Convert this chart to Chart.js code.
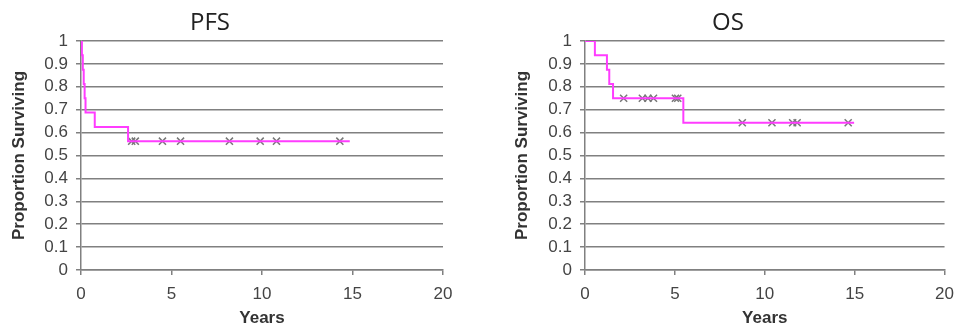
<!DOCTYPE html>
<html>
<head>
<meta charset="utf-8">
<script src="https://cdn.jsdelivr.net/npm/chart.js@4"></script>
<style>
  body { margin: 0; background: #fff; }
  .box { position: absolute; top: 0; height: 333px; }
</style>
</head>
<body>
<div class="box" style="left:0;width:480px"><canvas id="pfsChart" width="480" height="333"></canvas></div>
<div class="box" style="left:480px;width:483px"><canvas id="osChart" width="483" height="333"></canvas></div>
<script>
// PFS step curve (years, proportion surviving)
const pfsTimes = [0, 0.05, 0.1, 0.15, 0.2, 0.25, 0.76, 2.6, 14.85];
const pfsSurv = [1, 0.9375, 0.875, 0.8125, 0.75, 0.6875, 0.625, 0.5625, 0.5625];
// PFS censored marks
const pfsCensTimes = [2.8, 3.0, 4.5, 5.5, 8.2, 9.9, 10.8, 14.3];
const pfsCensSurv = [0.5625, 0.5625, 0.5625, 0.5625, 0.5625, 0.5625, 0.5625, 0.5625];

// OS step curve
const osTimes = [0, 0.55, 1.22, 1.35, 1.56, 5.47, 14.97];
const osSurv = [1, 0.9375, 0.875, 0.8125, 0.75, 0.643, 0.643];
// OS censored marks
const osCensTimes = [2.15, 3.19, 3.5, 3.81, 5.03, 5.16, 8.75, 10.4, 11.55, 11.8, 14.64];
const osCensSurv = [0.75, 0.75, 0.75, 0.75, 0.75, 0.75, 0.643, 0.643, 0.643, 0.643, 0.643];

const yTicks = ["0", "0.1", "0.2", "0.3", "0.4", "0.5", "0.6", "0.7", "0.8", "0.9", "1"];
const xTicks = ["0", "5", "10", "15", "20"];

const gridGray = '#808080';
const tickColor = '#444';

function toPoints(xs, ys){
    let stock = [];
    let i = -1;
    while(++i < xs.length){
        stock.push({x: xs[i], y: ys[i]});
    }
    return stock;
}

// draws the chart title at a fixed x (the original is not centred over the plot)
const freeTitle = {
    id: 'freeTitle',
    afterDraw(chart, args, opts) {
        const ctx = chart.ctx;
        ctx.save();
        ctx.font = '24px "Open Sans"';
        ctx.fillStyle = '#222';
        ctx.textAlign = 'center';
        ctx.textBaseline = 'alphabetic';
        ctx.fillText(opts.text, opts.x, opts.y);
        ctx.restore();
    }
};

function kmChart(id, times, surv, censT, censS, title, titleX, yWidth, padRight, yTitlePad){
    const ctx = document.getElementById(id);
    return new Chart(ctx, {
        type: 'line',
        data: {
            datasets: [{
                label: 'curve',
                data: toPoints(times, surv),
                stepped: true,
                borderColor: '#ff3cff',
                borderWidth: 2,
                pointRadius: 0,
                fill: false
            },
            {
                label: 'censored',
                data: toPoints(censT, censS),
                showLine: false,
                pointStyle: 'crossRot',
                pointRadius: 5,
                borderColor: '#777',
                borderWidth: 1.5
            }]
        },
        plugins: [freeTitle],
        options: {
            responsive: false,
            animation: false,
            layout: { padding: { top: 41, right: padRight, left: 0, bottom: 0 } },
            plugins: {
                legend: { display: false },
                tooltip: { enabled: false },
                freeTitle: { text: title, x: titleX, y: 30 }
            },
            scales: {
                x: {
                    type: 'linear',
                    min: 0,
                    max: 20,
                    afterFit: (scale) => { scale.height = 63; },
                    ticks: {
                        stepSize: 5,
                        autoSkip: false,
                        maxRotation: 0,
                        color: tickColor,
                        padding: 9,
                        font: { family: 'Arial', size: 17 },
                        callback: (v) => xTicks[v / 5]
                    },
                    grid: { drawOnChartArea: false, drawTicks: true, tickLength: 5, color: gridGray, lineWidth: 1.5 },
                    border: { color: gridGray, width: 1.5 },
                    title: {
                        display: true,
                        text: 'Years',
                        color: '#333',
                        font: { family: 'Arial', size: 17, weight: 'bold' },
                        padding: { top: 0, bottom: 4 }
                    }
                },
                y: {
                    min: 0,
                    max: 1,
                    afterFit: (scale) => { scale.width = yWidth; },
                    ticks: {
                        stepSize: 0.1,
                        autoSkip: false,
                        color: tickColor,
                        padding: 8,
                        font: { family: 'Arial', size: 17 },
                        callback: (v) => yTicks[Math.round(v * 10)]
                    },
                    grid: { color: gridGray, lineWidth: 1.5, tickLength: 5 },
                    border: { color: gridGray, width: 1.5 },
                    title: {
                        display: true,
                        text: 'Proportion Surviving',
                        color: '#333',
                        font: { family: 'Arial', size: 17, weight: 'bold' },
                        padding: { top: yTitlePad, bottom: 0 }
                    }
                }
            }
        }
    });
}

kmChart('pfsChart', pfsTimes, pfsSurv, pfsCensTimes, pfsCensSurv, 'PFS', 210, 81, 37, 9);
kmChart('osChart', osTimes, osSurv, osCensTimes, osCensSurv, 'OS', 248, 105, 16, 32);
</script>
</body>
</html>
